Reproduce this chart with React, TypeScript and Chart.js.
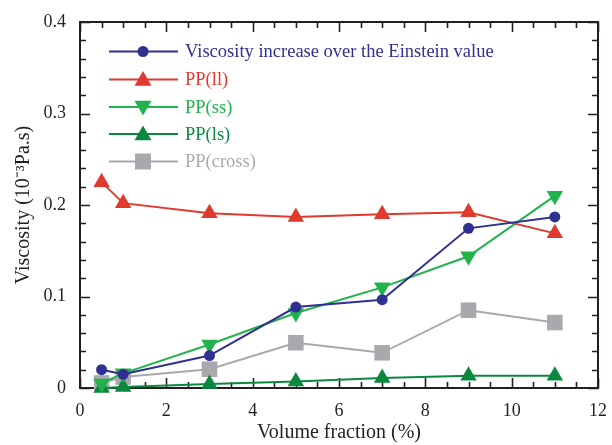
import React, { useEffect, useRef } from "react";
import { Chart, registerables } from "chart.js";

Chart.register(...registerables);

const volumeFraction = [0.5, 1, 3, 5, 7, 9, 11];
const einsteinIncrease = [0.02, 0.015, 0.0355, 0.0885, 0.0965, 0.1745, 0.187];
const ppLL = [0.225, 0.202, 0.191, 0.187, 0.19, 0.192, 0.169];
const ppSS = [0.005, 0.016, 0.0475, 0.082, 0.11, 0.144, 0.21];
const ppLS = [0.0, 0.001, 0.0045, 0.007, 0.011, 0.0135, 0.0135];
const ppCross = [0.0055, 0.012, 0.0205, 0.0495, 0.0385, 0.085, 0.0715];

const seriesNames = [
  "Viscosity increase over the Einstein value",
  "PP(ll)",
  "PP(ss)",
  "PP(ls)",
  "PP(cross)",
];
const xTitle = "Volume fraction (%)";
const yTitle = "Viscosity (10\u207B\u00B3Pa.s)";

const SERIF = "'Liberation Serif', 'Times New Roman', serif";

const colors = ["#2e3192", "#e03a2e", "#22b24c", "#0a893e", "#a7a9ac"];
const styles = ["circle", "triangle", "triangle", "triangle", "rect"];
const rotations = [0, 0, 180, 0, 0];
const radii = [5.5, 9.5, 9.5, 9.5, 11];

const toPts = (ys: number[]) => volumeFraction.map((x, i) => ({ x, y: ys[i] }));

export default function App() {
  const ref = useRef<HTMLCanvasElement | null>(null);

  useEffect(() => {
    if (!ref.current) return;
    const allSeries = [einsteinIncrease, ppLL, ppSS, ppLS, ppCross];

    const framePlugin = {
      id: "frame",
      beforeDatasetsDraw(chart: any) {
        const ctx = chart.ctx;
        const { left, right, top, bottom } = chart.chartArea;
        const xs = chart.scales.x;
        const ys = chart.scales.y;
        ctx.save();
        ctx.strokeStyle = "#231f20";
        ctx.lineWidth = 2;
        ctx.strokeRect(left, top, right - left, bottom - top);
        ctx.lineWidth = 1.6;
        for (let v = 0; v <= 12.001; v += 0.5) {
          const px = Math.round(xs.getPixelForValue(v)) + 0.5;
          const major = Math.abs(v / 2 - Math.round(v / 2)) < 1e-6;
          const len = major ? 10 : 6;
          ctx.beginPath();
          ctx.moveTo(px, bottom);
          ctx.lineTo(px, bottom - len);
          ctx.moveTo(px, top);
          ctx.lineTo(px, top + len);
          ctx.stroke();
        }
        for (let i = 0; i <= 20; i++) {
          const v = i * 0.02;
          const py = Math.round(ys.getPixelForValue(v)) + 0.5;
          const major = i % 5 === 0;
          const len = major ? 10 : 6;
          ctx.beginPath();
          ctx.moveTo(left, py);
          ctx.lineTo(left + len, py);
          ctx.moveTo(right, py);
          ctx.lineTo(right - len, py);
          ctx.stroke();
        }
        ctx.restore();
      },
      afterDraw(chart: any) {
        const ctx = chart.ctx;
        const { left, right, top, bottom } = chart.chartArea;
        ctx.save();
        ctx.fillStyle = "#231f20";
        ctx.font = `20px ${SERIF}`;
        ctx.textAlign = "center";
        ctx.textBaseline = "middle";
        ctx.fillText(xTitle, (left + right) / 2, 433);
        ctx.save();
        ctx.translate(24, (top + bottom) / 2);
        ctx.rotate(-Math.PI / 2);
        ctx.fillText(yTitle, 0, 0);
        ctx.restore();
        const rowY = [51.5, 79.5, 107, 134, 161.5];
        const x0 = 109, x1 = 178, xm = 143, xt = 185;
        ctx.font = `18.5px ${SERIF}`;
        ctx.textAlign = "left";
        for (let i = 0; i < seriesNames.length; i++) {
          const y = rowY[i];
          ctx.strokeStyle = colors[i];
          ctx.lineWidth = 2;
          ctx.beginPath();
          ctx.moveTo(x0, y);
          ctx.lineTo(x1, y);
          ctx.stroke();
          ctx.fillStyle = colors[i];
          if (styles[i] === "circle") {
            ctx.beginPath();
            ctx.arc(xm, y, 5.5, 0, Math.PI * 2);
            ctx.fill();
          } else if (styles[i] === "rect") {
            ctx.fillRect(xm - 8, y - 8, 16, 16);
          } else {
            const down = rotations[i] === 180;
            const h = 14;
            const w = 8.5;
            ctx.beginPath();
            if (down) {
              ctx.moveTo(xm, y + h * 0.6);
              ctx.lineTo(xm - w, y - h * 0.45);
              ctx.lineTo(xm + w, y - h * 0.45);
            } else {
              ctx.moveTo(xm, y - h * 0.6);
              ctx.lineTo(xm - w, y + h * 0.45);
              ctx.lineTo(xm + w, y + h * 0.45);
            }
            ctx.closePath();
            ctx.fill();
          }
          ctx.fillText(seriesNames[i], xt, y + 1);
        }
        ctx.restore();
      },
    };

    const chart = new Chart(ref.current, {
      type: "line",
      data: {
        datasets: allSeries.map((ys, i) => ({
          label: seriesNames[i],
          data: toPts(ys),
          borderColor: colors[i],
          backgroundColor: colors[i],
          borderWidth: 2,
          pointStyle: styles[i] as any,
          rotation: rotations[i],
          pointRadius: radii[i],
          pointHoverRadius: radii[i],
          pointBorderWidth: 0,
          clip: false as any,
          tension: 0,
        })),
      },
      options: {
        animation: false,
        responsive: false,
        devicePixelRatio: 1,
        layout: { padding: { top: 22, right: 14, left: 0, bottom: 0 } },
        plugins: { legend: { display: false }, tooltip: { enabled: false } },
        scales: {
          x: {
            type: "linear",
            min: 0,
            max: 12,
            ticks: {
              stepSize: 2,
              padding: 4,
              color: "#231f20",
              font: { family: SERIF, size: 18 },
              maxRotation: 0,
            },
            grid: { display: false },
            border: { display: false },
            afterFit: (s: any) => {
              s.height = 57;
            },
          },
          y: {
            type: "linear",
            min: 0,
            max: 0.4,
            ticks: {
              stepSize: 0.1,
              padding: 6,
              color: "#231f20",
              font: { family: SERIF, size: 18 },
            },
            grid: { display: false },
            border: { display: false },
            afterFit: (s: any) => {
              s.width = 80;
            },
          },
        },
      },
      plugins: [framePlugin],
    });
    return () => chart.destroy();
  }, []);

  return (
    <div style={{ position: "absolute", left: 0, top: 0, width: 612, height: 445, background: "#fff" }}>
      <canvas ref={ref} width={612} height={445} />
    </div>
  );
}
